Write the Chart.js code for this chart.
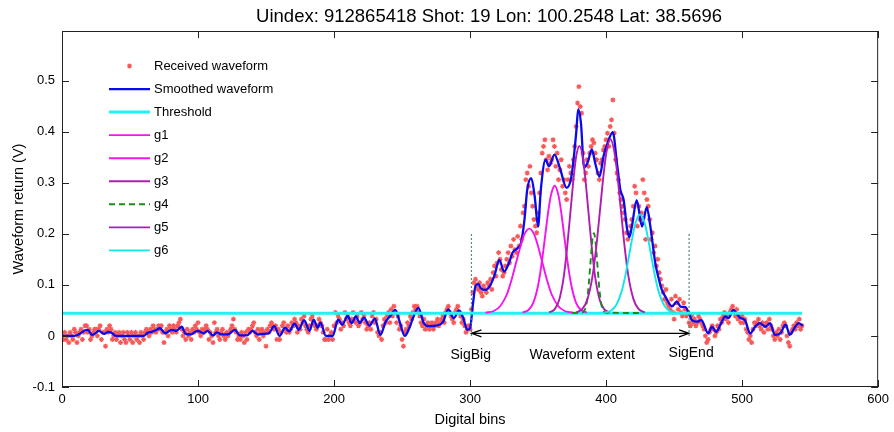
<!DOCTYPE html>
<html><head><meta charset="utf-8">
<script src="https://cdn.jsdelivr.net/npm/chart.js@4/dist/chart.umd.min.js"></script>
<style>html,body{margin:0;padding:0;background:#fff}</style>
</head><body>
<canvas id="c" width="894" height="432"></canvas>
<script>
// ---------------- data ----------------
const titleText = 'Uindex: 912865418 Shot: 19 Lon: 100.2548 Lat: 38.5696';
const xAxisTitle = 'Digital bins';
const yAxisTitle = 'Waveform return (V)';
const xTicks = [0, 100, 200, 300, 400, 500, 600];
const xTickLabels = ['0', '100', '200', '300', '400', '500', '600'];
const yTicks = [-0.1, 0, 0.1, 0.2, 0.3, 0.4, 0.5];
const yTickLabels = ['-0.1', '0', '0.1', '0.2', '0.3', '0.4', '0.5'];
const seriesNames = ['Received waveform', 'Smoothed waveform', 'Threshold', 'g1', 'g2', 'g3', 'g4', 'g5', 'g6'];

// received waveform, one value per digital bin starting at bin 0
const receivedWaveform = [
  0,-.007,.007,-.007,0,-.013,.007,0,-.007,.013,.007,-.013,0,.007,.013,-.007,.007,.02,.02,.007,
  .013,-.007,0,.007,.013,.013,0,.013,.02,-.007,.007,.007,-.02,.013,.007,.02,.013,-.007,0,.007,
  -.007,0,.007,-.013,0,.007,-.007,-.013,.007,0,-.007,.007,-.013,0,.007,-.007,0,-.013,.007,0,
  -.007,.007,.013,.007,0,.013,.007,.02,.013,.007,.013,.02,.013,.02,.007,-.013,.007,.013,0,.02,
  .013,.007,.02,.013,.007,.02,.026,.033,.013,0,.007,-.007,.013,0,.007,-.007,.013,.007,.02,.013,
  .026,.007,0,.013,.007,.013,.02,.013,-.007,.007,0,-.013,.026,.007,.013,0,-.007,.007,.013,0,
  -.007,.007,0,.007,.013,.02,.033,.013,.007,-.007,0,-.007,.007,0,-.013,.007,-.007,.013,.007,.013,
  .02,.026,.007,0,.013,-.007,.007,.013,0,.007,-.02,.013,.007,.02,.026,.02,.013,.02,-.007,.013,
  -.007,.007,.02,.026,.013,.007,.02,.007,.013,.026,.02,.033,.026,.007,.02,.013,.033,.026,.039,.02,
  .013,.007,.02,.033,.039,.026,.02,.013,.02,.033,.026,.02,.007,-.007,-.007,.013,-.007,0,.007,-.007,
  .02,.046,.026,.039,.033,.013,.026,.02,.046,.033,.039,.026,.02,.033,.046,.033,.026,.039,.02,.026,
  .046,.033,.039,.026,.013,.02,.026,.013,.039,.046,.026,.033,.007,0,.007,-.007,.02,.033,.026,.039,
  .046,.026,.052,.039,.058,.046,.026,.039,.013,.02,-.007,-.02,.007,.013,.026,.02,.039,.033,.046,.058,
  .052,.058,.046,.039,.026,.02,.033,.013,.02,.026,.013,.02,.026,.013,.02,.026,.033,.02,.026,.033,
  .039,.026,.046,.052,.058,.046,.039,.033,.026,.046,.052,.058,.046,.039,.026,.033,.02,.007,.013,.02,
  .013,.052,.085,.104,.111,.098,.091,.104,.085,.078,.098,.091,.085,.104,.098,.111,.091,.124,.137,.117,
  .143,.163,.150,.130,.117,.124,.137,.150,.163,.143,.176,.156,.189,.169,.163,.195,.176,.215,.189,.241,
  .254,.306,.319,.293,.332,.280,.254,.228,.215,.202,.241,.280,.319,.358,.371,.384,.345,.325,.352,.338,
  .345,.384,.371,.332,.358,.306,.325,.345,.293,.306,.280,.267,.306,.332,.319,.306,.345,.371,.410,.456,
  .488,.449,.436,.358,.306,.319,.345,.332,.358,.371,.384,.378,.358,.345,.319,.306,.338,.345,.364,.371,
  .384,.397,.371,.410,.423,.462,.397,.345,.319,.306,.280,.267,.254,.241,.228,.202,.189,.202,.215,.228,
  .254,.293,.280,.215,.254,.228,.241,.306,.280,.189,.267,.254,.228,.189,.202,.163,.176,.137,.150,.124,
  .111,.098,.085,.072,.091,.065,.059,.052,.072,.046,.033,.078,.065,.052,.072,.046,.039,.065,.052,.039,
  .046,.026,.02,.039,.026,.033,.02,.026,.039,.033,.026,.02,.013,0,-.013,-.007,.007,.013,.02,.013,
  0,.007,.02,.013,.033,.026,.039,.046,.033,.039,.026,.046,.052,.058,.046,.039,.052,.033,.039,.026,
  .039,.026,.033,.013,.007,-.007,0,-.013,.013,.026,.02,.026,.033,.02,.013,.026,.007,.02,.026,.013,
  .033,.02,.013,0,-.007,.007,0,.013,-.007,.007,.02,.026,.02,0,-.013,-.02,.007,.013,.02,.013,
  .026,.02,.033,.013,.02
];

// smoothed waveform, read at its turning points
const smoothedBins = [0,5,9,13,17,19,22,25,27,31,34,36,40,50,60,63,66,69,72,76,79,81,84,88,91,95,98,100,104,107,111,114,117,122,127,131,136,140,144,148,152,156,160,164,167,171,174,178,182,185,188,190,194,199,203,206,210,213,216,219,222,226,230,234,238,241,245,248,252,256,258,262,266,270,275,280,284,288,292,295,298,300,302,304,306,308,311.5,315,318,321.5,325,329,331,335,337.5,340,342,345,347.5,350,352,355.5,358,362,366,371,374.5,378,379.5,381.5,383.8,386.5,389.5,392,395.1,398.3,401.5,404.9,408,410.5,412.9,415.4,417,419,422.5,426.4,429.9,432.5,436.2,438.7,441,443.6,448.5,452,455,458,461,463,466.7,470,475,477.8,480.8,484.6,487.5,490,493.6,496,498.7,502,506,509.5,513,517,520.6,524,528,532,535,539,541.5,544.5];
const smoothedValues = [0,0,0,0.004,0.011,0.012,0.002,0.006,0.010,0.004,0.008,0.007,0,0,0,0.006,0.008,0.011,0.015,0.005,0.010,0.012,0.010,0.018,0.004,0.003,0.008,0.010,0.005,0.010,0.001,0.007,0.003,0.003,0.012,0.001,0.001,0.010,0.003,0.004,0.005,0.019,0.0,0.016,0.009,0.024,0.012,0.031,0.010,0.032,0.016,0.026,0.0,0.0,0.032,0.022,0.039,0.025,0.038,0.025,0.036,0.020,0.034,0.002,0.028,0.038,0.051,0.030,0.0,0.020,0.035,0.055,0.025,0.019,0.020,0.027,0.052,0.035,0.050,0.035,0.012,0.015,0.060,0.098,0.102,0.093,0.090,0.100,0.119,0.149,0.126,0.146,0.162,0.172,0.182,0.228,0.286,0.309,0.273,0.214,0.286,0.345,0.332,0.355,0.329,0.290,0.312,0.397,0.444,0.417,0.330,0.340,0.365,0.338,0.312,0.354,0.381,0.399,0.338,0.286,0.266,0.210,0.193,0.215,0.266,0.214,0.252,0.215,0.142,0.112,0.090,0.077,0.058,0.067,0.057,0.057,0.044,0.031,0.028,0.031,0.005,0.018,0.008,0.025,0.038,0.035,0.051,0.044,0.035,0.031,0.005,0.018,0.025,0.018,0.025,0.002,0.005,0.022,0.002,0.018,0.025,0.020];

const thresholdBins = [0, 544];
const thresholdValues = [0.0445, 0.0445];

const g1Bins = [311.4,317.4,322.1,326.9,330.4,334,337.6,339.9,343.5,347.1,349.4,353,356.6,360.1,364.9,369.6,375.6];
const g1Values = [.0456,.0488,.0581,.0806,.1092,.1451,.1808,.1988,.210,.1988,.1808,.1451,.1092,.0806,.0581,.0488,.0456];
const g2Bins = [338.6,342.95,346.45,350,352.6,355.2,357.8,359.6,362.2,364.8,366.6,369.2,371.8,374.45,377.95,381.45,385.8];
const g2Values = [.0458,.0507,.0648,.0988,.1419,.196,.2499,.2771,.294,.2771,.2499,.196,.1419,.0988,.0648,.0507,.0458];
const g3Bins = [358.1,362.25,365.55,368.85,371.3,373.8,376.3,377.9,380.4,382.9,384.5,387,389.5,391.95,395.25,398.55,402.7];
const g3Values = [.0461,.0525,.071,.1156,.1722,.2433,.3141,.3498,.372,.3498,.3141,.2433,.1722,.1156,.071,.0525,.0461];
const g4Bins = [375,382.2,383.85,385.15,386.45,387.4,388.4,389.4,390,391,392,392.6,393.6,394.6,395.55,396.85,398.15,399.8,425];
const g4Values = [.045,.0455,.0486,.0574,.0787,.1057,.1396,.1734,.1904,.201,.1904,.1734,.1396,.1057,.0787,.0574,.0486,.0455,.045];
const g5Bins = [377.9,382.6,386.3,390.1,392.9,395.7,398.5,400.4,403.2,406,407.9,410.7,413.5,416.3,420.1,423.8,428.5];
const g5Values = [.0462,.0528,.0721,.1184,.1773,.2512,.3248,.3619,.385,.3619,.3248,.2512,.1773,.1184,.0721,.0528,.0462];
const g6Bins = [398.7,403.55,407.45,411.35,414.3,417.2,420.1,422.1,425,427.9,429.9,432.8,435.7,438.65,442.55,446.45,451.3];
const g6Values = [.0457,.0494,.0604,.0867,.1201,.1621,.2038,.2249,.238,.2249,.2038,.1621,.1201,.0867,.0604,.0494,.0457];

const sigBigBin = 301, sigEndBin = 461;
const markerRange = [0.0, 0.2];
const arrowLevel = 0.005;
const annotationTexts = ['SigBig', 'Waveform extent', 'SigEnd'];
const annotationBins = [300.5, 382.4, 462.5];
const annotationLevels = [-0.037, -0.037, -0.034];

// ---------------- chart ----------------
const FONT = '"Liberation Sans", Arial, Helvetica, sans-serif';
Chart.defaults.font.family = FONT;
Chart.defaults.color = '#000';

const pts = (xs, ys) => xs.map((x, i) => ({x, y: ys[i]}));
const lineDs = (label, xs, ys, color, width, order, extra) => Object.assign({
  label, data: pts(xs, ys), showLine: true, borderColor: color, backgroundColor: color,
  borderWidth: width, pointRadius: 0, cubicInterpolationMode: 'monotone', order
}, extra || {});

const datasets = [
  { label: seriesNames[0], data: receivedWaveform.map((y, i) => ({x: i, y})), showLine: false,
    pointStyle: 'star', pointRadius: 2.5, borderWidth: 1.2,
    borderColor: 'rgb(247,88,88)', backgroundColor: 'rgb(247,88,88)', order: 20 },
  lineDs(seriesNames[1], smoothedBins, smoothedValues, '#0a0aea', 2.3, 19),
  lineDs(seriesNames[2], thresholdBins, thresholdValues, '#1ff2f2', 3, 18),
  lineDs(seriesNames[3], g1Bins, g1Values, '#f614ee', 1.9, 17),
  lineDs(seriesNames[4], g2Bins, g2Values, '#f614ee', 1.9, 16),
  lineDs(seriesNames[5], g3Bins, g3Values, '#b01cb0', 1.9, 15),
  lineDs(seriesNames[6], g4Bins, g4Values, '#1a8c1a', 1.9, 14, {borderDash: [6, 4]}),
  lineDs(seriesNames[7], g5Bins, g5Values, '#b01cb0', 1.9, 13),
  lineDs(seriesNames[8], g6Bins, g6Values, '#12e6ea', 1.9, 12),
  lineDs('', [sigBigBin, sigBigBin], markerRange, 'rgba(70,130,100,0.9)', 1.2, 11, {borderDash: [2, 2], cubicInterpolationMode: 'default', tension: 0}),
  lineDs('', [sigEndBin, sigEndBin], markerRange, 'rgba(70,130,100,0.9)', 1.2, 11, {borderDash: [2, 2], cubicInterpolationMode: 'default', tension: 0})
];

const framePlugin = {
  id: 'frame',
  afterDatasetsDraw(chart) {
    const {ctx, chartArea: a, scales: {x, y}} = chart;
    ctx.save();
    ctx.strokeStyle = '#222';
    ctx.lineWidth = 1;
    ctx.strokeRect(a.left + 0.5, a.top + 0.5, a.right - a.left - 1, a.bottom - a.top - 1);
    const L = 7;
    ctx.beginPath();
    xTicks.forEach(v => {
      const px = Math.round(x.getPixelForValue(v)) + 0.5;
      ctx.moveTo(px, a.bottom); ctx.lineTo(px, a.bottom - L);
      ctx.moveTo(px, a.top); ctx.lineTo(px, a.top + L);
    });
    yTicks.forEach(v => {
      const py = Math.round(y.getPixelForValue(v)) + 0.5;
      ctx.moveTo(a.left, py); ctx.lineTo(a.left + L, py);
      ctx.moveTo(a.right, py); ctx.lineTo(a.right - L, py);
    });
    ctx.stroke();
    ctx.restore();
  }
};

const annotatePlugin = {
  id: 'annotate',
  afterDatasetsDraw(chart) {
    const {ctx, chartArea: a, scales: {x, y}} = chart;
    ctx.save();
    // title
    ctx.fillStyle = '#000';
    ctx.font = '18.5px ' + FONT;
    ctx.textAlign = 'center';
    ctx.textBaseline = 'middle';
    ctx.fillText(titleText, (a.left + a.right) / 2 + 19, a.top - 14);
    // arrow
    const ay = y.getPixelForValue(arrowLevel);
    const x0 = x.getPixelForValue(sigBigBin), x1 = x.getPixelForValue(sigEndBin);
    ctx.strokeStyle = '#000';
    ctx.lineWidth = 1.2;
    ctx.beginPath();
    ctx.moveTo(x0, ay); ctx.lineTo(x1, ay);
    ctx.moveTo(x0 + 10, ay - 3.5); ctx.lineTo(x0, ay); ctx.lineTo(x0 + 10, ay + 3.5);
    ctx.moveTo(x1 - 10, ay - 3.5); ctx.lineTo(x1, ay); ctx.lineTo(x1 - 10, ay + 3.5);
    ctx.stroke();
    // texts
    ctx.font = '14px ' + FONT;
    annotationTexts.forEach((t, i) => {
      ctx.fillText(t, x.getPixelForValue(annotationBins[i]), y.getPixelForValue(annotationLevels[i]));
    });
    // legend
    ctx.font = '13px ' + FONT;
    ctx.textAlign = 'left';
    let row = 0;
    chart.data.datasets.forEach(ds => {
      if (!ds.label) return;
      const ly = a.top + 35 + row * 23.05;
      const lx0 = a.left + 47, lx1 = a.left + 88;
      if (ds.showLine === false) {
        ctx.strokeStyle = ds.borderColor;
        ctx.fillStyle = ds.backgroundColor;
        ctx.lineWidth = ds.borderWidth;
        Chart.helpers.drawPoint(ctx, {pointStyle: ds.pointStyle, radius: ds.pointRadius, borderWidth: ds.borderWidth, rotation: 0}, (lx0 + lx1) / 2, ly);
      } else {
        ctx.strokeStyle = ds.borderColor;
        ctx.lineWidth = ds.borderWidth;
        ctx.setLineDash(ds.borderDash || []);
        ctx.beginPath(); ctx.moveTo(lx0, ly); ctx.lineTo(lx1, ly); ctx.stroke();
        ctx.setLineDash([]);
      }
      ctx.fillStyle = '#000';
      ctx.fillText(ds.label, a.left + 92, ly);
      row++;
    });
    ctx.restore();
  }
};

new Chart(document.getElementById('c'), {
  type: 'scatter',
  data: { datasets },
  options: {
    responsive: false,
    animation: false,
    devicePixelRatio: 1,
    layout: { padding: { top: 31, right: 14, bottom: 0, left: 0 } },
    plugins: { legend: { display: false }, tooltip: { enabled: false }, title: { display: false } },
    scales: {
      x: {
        type: 'linear', min: 0, max: 600,
        afterBuildTicks: s => { s.ticks = xTicks.map(v => ({value: v})); },
        afterFit: s => { s.height = 45; },
        ticks: { font: { size: 13 }, color: '#000', padding: 5, maxRotation: 0,
                 callback: (v, i) => xTickLabels[i] },
        grid: { display: false, drawTicks: false },
        border: { display: false },
        title: { display: true, text: xAxisTitle, font: { size: 14.5 }, color: '#000', padding: { top: 0, bottom: 3 } }
      },
      y: {
        type: 'linear', min: -0.1, max: 0.597,
        afterBuildTicks: s => { s.ticks = yTicks.map(v => ({value: v})); },
        afterFit: s => { s.width = 62; },
        ticks: { font: { size: 13 }, color: '#000', padding: 7,
                 callback: (v, i) => yTickLabels[i] },
        grid: { display: false, drawTicks: false },
        border: { display: false },
        title: { display: true, text: yAxisTitle, font: { size: 14.5 }, color: '#000', padding: { top: 10, bottom: 0 } }
      }
    }
  },
  plugins: [framePlugin, annotatePlugin]
});
</script>
</body></html>
